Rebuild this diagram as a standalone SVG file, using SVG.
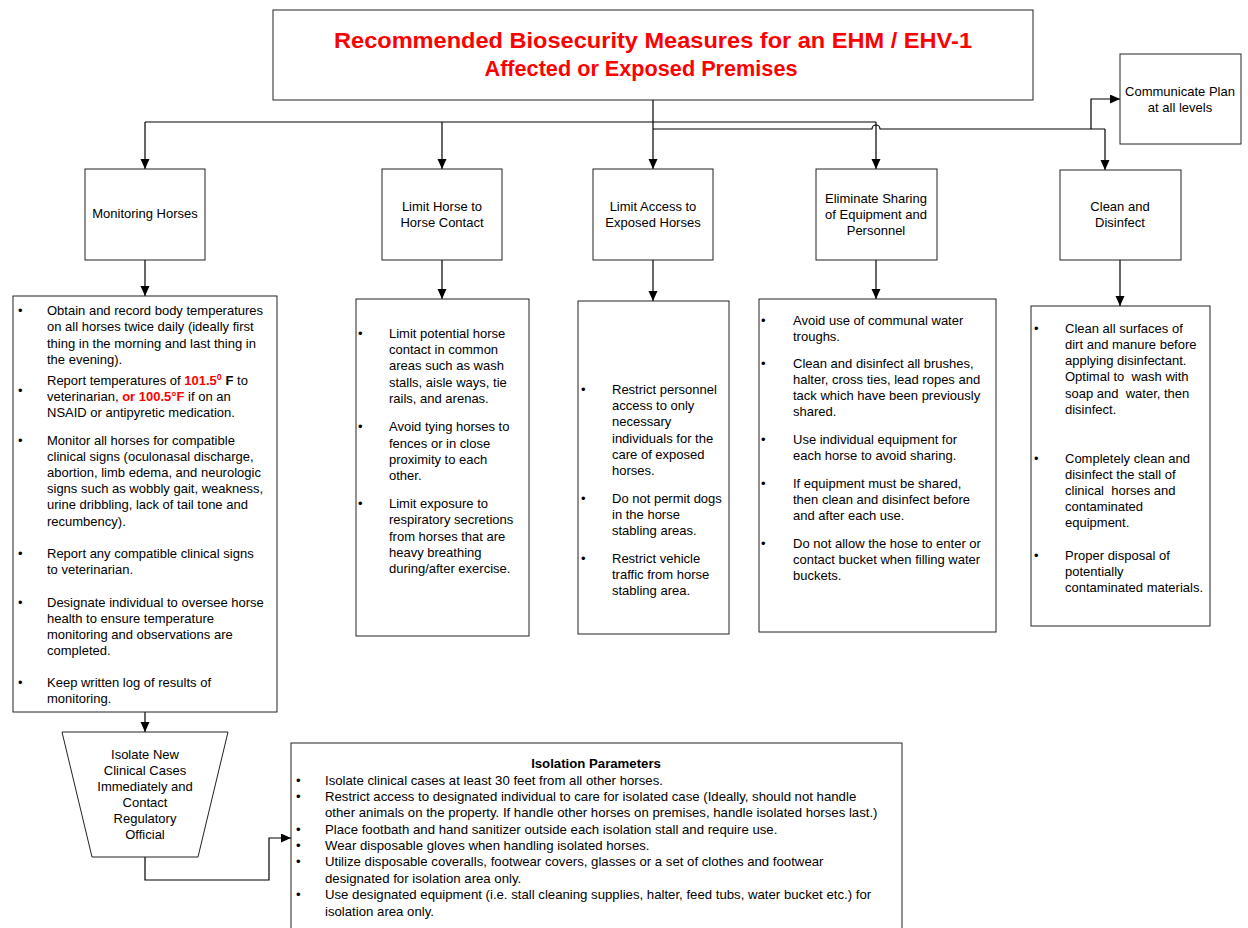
<svg xmlns="http://www.w3.org/2000/svg" width="1248" height="928" viewBox="0 0 1248 928">
  <style>
    text { font-family: "Liberation Sans", Arial, sans-serif; fill: #000; }
    .box { fill: #fff; stroke: #222; stroke-width: 1; }
    .title { font-size: 22px; font-weight: bold; fill: #ff0000; text-anchor: middle; }
    .lbl { font-size: 13px; text-anchor: middle; }
    .li { font-size: 13px; }
    .iso { font-size: 13.2px; }
    .red { fill: #ff0000; font-weight: bold; }
    .b { font-weight: bold; }
    .wire { fill: none; stroke: #000; stroke-width: 1.2; }
    .arr { marker-end: url(#ah); }
  </style>
  <defs>
    <marker id="ah" markerUnits="userSpaceOnUse" markerWidth="10" markerHeight="10" refX="10" refY="4.5" orient="auto">
      <path d="M0,0 L10,4.5 L0,9 z" fill="#000"/>
    </marker>
  </defs>
  <rect width="1248" height="928" fill="#fff"/>

  <!-- connectors -->
  <g id="connectors">
    <path class="wire arr" d="M653,100 V169"/>
    <path class="wire" d="M145,122 H876"/>
    <path class="wire arr" d="M145,122 V169"/>
    <path class="wire arr" d="M442,122 V169"/>
    <path class="wire arr" d="M876,122 V169"/>
    <path class="wire" d="M653,129 H872 A4,4 0 0 1 880,129 H1105"/>
    <path class="wire arr" d="M1105,129 V170"/>
    <path class="wire arr" d="M1091,129 V99 H1120"/>
    <path class="wire arr" d="M145,260 V296"/>
    <path class="wire arr" d="M442,260 V299"/>
    <path class="wire arr" d="M653,260 V301"/>
    <path class="wire arr" d="M876,260 V299"/>
    <path class="wire arr" d="M1120,260 V306"/>
    <path class="wire arr" d="M145,712 V732"/>
    <path class="wire arr" d="M145,857 V880 H269 V838 H291"/>
  </g>

  <!-- title -->
  <g id="title">
    <rect class="box" x="273" y="10" width="760" height="90"/>
    <text class="title" x="653" y="48" textLength="638" lengthAdjust="spacingAndGlyphs">Recommended Biosecurity Measures for an EHM / EHV-1</text>
    <text class="title" x="641" y="76" textLength="313" lengthAdjust="spacingAndGlyphs">Affected or Exposed Premises</text>
  </g>

  <g id="communicate">
    <rect class="box" x="1120" y="54" width="121" height="90"/>
    <text class="lbl" x="1180" y="96">Communicate Plan</text>
    <text class="lbl" x="1180" y="112">at all levels</text>
  </g>

  <!-- category boxes -->
  <g id="monitoring">
    <rect class="box" x="85" y="169" width="120" height="91"/>
    <text class="lbl" x="145" y="218">Monitoring Horses</text>
  </g>
  <g id="limit-contact">
    <rect class="box" x="382" y="169" width="120" height="91"/>
    <text class="lbl" x="442" y="211">Limit Horse to</text>
    <text class="lbl" x="442" y="227">Horse Contact</text>
  </g>
  <g id="limit-access">
    <rect class="box" x="593" y="169" width="120" height="91"/>
    <text class="lbl" x="653" y="211">Limit Access to</text>
    <text class="lbl" x="653" y="227">Exposed Horses</text>
  </g>
  <g id="eliminate-sharing">
    <rect class="box" x="816" y="169" width="121" height="91"/>
    <text class="lbl" x="876" y="203">Eliminate Sharing</text>
    <text class="lbl" x="876" y="219">of Equipment and</text>
    <text class="lbl" x="876" y="235">Personnel</text>
  </g>
  <g id="clean-disinfect">
    <rect class="box" x="1060" y="170" width="121" height="90"/>
    <text class="lbl" x="1120" y="211">Clean and</text>
    <text class="lbl" x="1120" y="227">Disinfect</text>
  </g>

  <!-- detail lists -->
  <g id="monitoring-list">
    <rect class="box" x="13" y="296" width="264" height="416"/>
    <g class="li">
      <text x="18" y="315">•</text>
      <text x="47" y="315">Obtain and record body temperatures</text>
      <text x="47" y="331">on all horses twice daily (ideally first</text>
      <text x="47" y="348">thing in the morning and last thing in</text>
      <text x="47" y="364">the evening).</text>
      <text x="18" y="395">•</text>
      <text x="47" y="385">Report temperatures of <tspan class="red">101.5</tspan><tspan class="red" font-size="9px" dy="-5">0</tspan><tspan class="b" dy="5"> F</tspan> to</text>
      <text x="47" y="401">veterinarian, <tspan class="red">or 100.5°F</tspan> if on an</text>
      <text x="47" y="417">NSAID or antipyretic medication.</text>
      <text x="18" y="445">•</text>
      <text x="47" y="445">Monitor all horses for compatible</text>
      <text x="47" y="461">clinical signs (oculonasal discharge,</text>
      <text x="47" y="477">abortion, limb edema, and neurologic</text>
      <text x="47" y="493">signs such as wobbly gait, weakness,</text>
      <text x="47" y="509">urine dribbling, lack of tail tone and</text>
      <text x="47" y="526">recumbency).</text>
      <text x="18" y="558">•</text>
      <text x="47" y="558">Report any compatible clinical signs</text>
      <text x="47" y="574">to veterinarian.</text>
      <text x="18" y="607">•</text>
      <text x="47" y="607">Designate individual to oversee horse</text>
      <text x="47" y="623">health to ensure temperature</text>
      <text x="47" y="639">monitoring and observations are</text>
      <text x="47" y="655">completed.</text>
      <text x="18" y="687">•</text>
      <text x="47" y="687">Keep written log of results of</text>
      <text x="47" y="703">monitoring.</text>
    </g>
  </g>

  <g id="contact-list">
    <rect class="box" x="356" y="299" width="173" height="337"/>
    <g class="li">
      <text x="358" y="338">•</text>
      <text x="389" y="338">Limit potential horse</text>
      <text x="389" y="354">contact in common</text>
      <text x="389" y="370">areas such as wash</text>
      <text x="389" y="387">stalls, aisle ways, tie</text>
      <text x="389" y="403">rails, and arenas.</text>
      <text x="358" y="431">•</text>
      <text x="389" y="431">Avoid tying horses to</text>
      <text x="389" y="448">fences or in close</text>
      <text x="389" y="464">proximity to each</text>
      <text x="389" y="480">other.</text>
      <text x="358" y="508">•</text>
      <text x="389" y="508">Limit exposure to</text>
      <text x="389" y="524">respiratory secretions</text>
      <text x="389" y="541">from horses that are</text>
      <text x="389" y="557">heavy breathing</text>
      <text x="389" y="573">during/after exercise.</text>
    </g>
  </g>

  <g id="access-list">
    <rect class="box" x="578" y="301" width="151" height="333"/>
    <g class="li">
      <text x="581" y="394">•</text>
      <text x="612" y="394">Restrict personnel</text>
      <text x="612" y="410">access to only</text>
      <text x="612" y="426">necessary</text>
      <text x="612" y="443">individuals for the</text>
      <text x="612" y="459">care of exposed</text>
      <text x="612" y="475">horses.</text>
      <text x="581" y="503">•</text>
      <text x="612" y="503">Do not permit dogs</text>
      <text x="612" y="519">in the horse</text>
      <text x="612" y="535">stabling areas.</text>
      <text x="581" y="563">•</text>
      <text x="612" y="563">Restrict vehicle</text>
      <text x="612" y="579">traffic from horse</text>
      <text x="612" y="595">stabling area.</text>
    </g>
  </g>

  <g id="sharing-list">
    <rect class="box" x="759" y="299" width="237" height="333"/>
    <g class="li">
      <text x="761" y="325">•</text>
      <text x="793" y="325">Avoid use of communal water</text>
      <text x="793" y="341">troughs.</text>
      <text x="761" y="368">•</text>
      <text x="793" y="368">Clean and disinfect all brushes,</text>
      <text x="793" y="384">halter, cross ties, lead ropes and</text>
      <text x="793" y="400">tack which have been previously</text>
      <text x="793" y="416">shared.</text>
      <text x="761" y="444">•</text>
      <text x="793" y="444">Use individual equipment for</text>
      <text x="793" y="460">each horse to avoid sharing.</text>
      <text x="761" y="488">•</text>
      <text x="793" y="488">If equipment must be shared,</text>
      <text x="793" y="504">then clean and disinfect before</text>
      <text x="793" y="520">and after each use.</text>
      <text x="761" y="548">•</text>
      <text x="793" y="548">Do not allow the hose to enter or</text>
      <text x="793" y="564">contact bucket when filling water</text>
      <text x="793" y="580">buckets.</text>
    </g>
  </g>

  <g id="disinfect-list">
    <rect class="box" x="1031" y="306" width="179" height="320"/>
    <g class="li">
      <text x="1034" y="333">•</text>
      <text x="1065" y="333">Clean all surfaces of</text>
      <text x="1065" y="349">dirt and manure before</text>
      <text x="1065" y="365">applying disinfectant.</text>
      <text x="1065" y="381" xml:space="preserve">Optimal to  wash with</text>
      <text x="1065" y="398" xml:space="preserve">soap and  water, then</text>
      <text x="1065" y="414">disinfect.</text>
      <text x="1034" y="463">•</text>
      <text x="1065" y="463">Completely clean and</text>
      <text x="1065" y="479">disinfect the stall of</text>
      <text x="1065" y="495" xml:space="preserve">clinical  horses and</text>
      <text x="1065" y="511">contaminated</text>
      <text x="1065" y="527">equipment.</text>
      <text x="1034" y="560">•</text>
      <text x="1065" y="560">Proper disposal of</text>
      <text x="1065" y="576">potentially</text>
      <text x="1065" y="592">contaminated materials.</text>
    </g>
  </g>

  <!-- isolation step -->
  <g id="isolate">
    <polygon class="box" points="62,732 228,732 198,857 92,857"/>
    <text class="lbl" x="145" y="759">Isolate New</text>
    <text class="lbl" x="145" y="775">Clinical Cases</text>
    <text class="lbl" x="145" y="791">Immediately and</text>
    <text class="lbl" x="145" y="807">Contact</text>
    <text class="lbl" x="145" y="823">Regulatory</text>
    <text class="lbl" x="145" y="839">Official</text>
  </g>

  <g id="isolation-parameters">
    <rect class="box" x="291" y="743" width="611" height="200"/>
    <text class="iso b" x="596" y="768" text-anchor="middle">Isolation Parameters</text>
    <g class="iso">
      <text x="296" y="785">•</text>
      <text x="325" y="785">Isolate clinical cases at least 30 feet from all other horses.</text>
      <text x="296" y="801">•</text>
      <text x="325" y="801">Restrict access to designated individual to care for isolated case (Ideally, should not handle</text>
      <text x="325" y="817">other animals on the property. If handle other horses on premises, handle isolated horses last.)</text>
      <text x="296" y="834">•</text>
      <text x="325" y="834">Place footbath and hand sanitizer outside each isolation stall and require use.</text>
      <text x="296" y="850">•</text>
      <text x="325" y="850">Wear disposable gloves when handling isolated horses.</text>
      <text x="296" y="866">•</text>
      <text x="325" y="866">Utilize disposable coveralls, footwear covers, glasses or a set of clothes and footwear</text>
      <text x="325" y="883">designated for isolation area only.</text>
      <text x="296" y="899">•</text>
      <text x="325" y="899">Use designated equipment (i.e. stall cleaning supplies, halter, feed tubs, water bucket etc.) for</text>
      <text x="325" y="916">isolation area only.</text>
    </g>
  </g>
</svg>
